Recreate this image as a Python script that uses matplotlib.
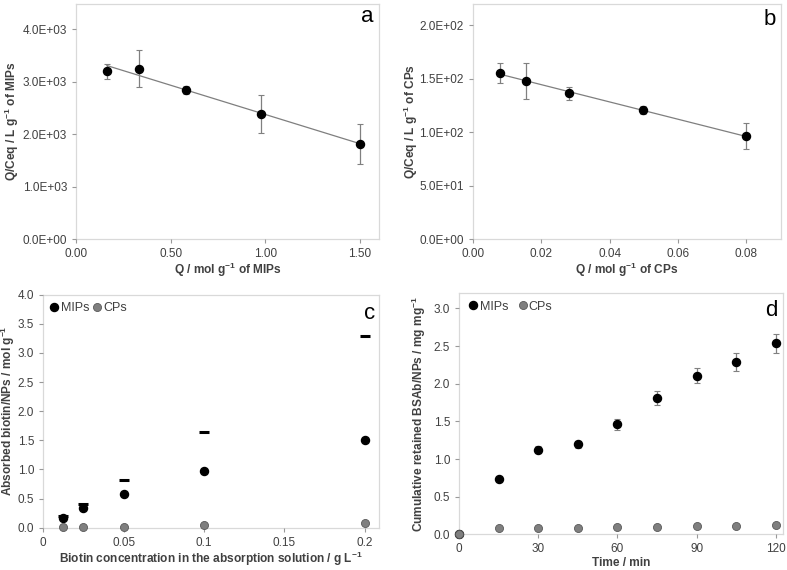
import matplotlib
matplotlib.use("Agg")
import matplotlib.pyplot as plt
import numpy as np
from matplotlib.ticker import FuncFormatter, MultipleLocator

plt.rcParams["font.family"] = ["Liberation Sans", "DejaVu Sans"]
plt.rcParams["mathtext.fontset"] = "custom"
plt.rcParams["mathtext.rm"] = "Liberation Sans:bold"
plt.rcParams["mathtext.it"] = "Liberation Sans:bold"
plt.rcParams["mathtext.bf"] = "Liberation Sans:bold"

# panel a: Scatchard plot, MIPs
q_mips = [0.163, 0.333, 0.581, 0.975, 1.50]
qc_mips = [3200, 3250, 2838, 2380, 1813]
qc_mips_err = [145, 360, 75, 360, 380]

# panel b: Scatchard plot, CPs
q_cps = [0.0080, 0.0155, 0.0282, 0.0498, 0.0799]
qc_cps = [155.4, 148.0, 136.4, 120.6, 96.3]
qc_cps_err = [9.5, 17.0, 6.0, 4.0, 12.5]

# panel c: adsorption vs biotin concentration
conc = [0.0125, 0.025, 0.05, 0.1, 0.2]
abs_mips = [0.17, 0.33, 0.58, 0.97, 1.50]
abs_cps = [0.01, 0.01, 0.02, 0.046, 0.074]
abs_max = [0.20, 0.41, 0.82, 1.64, 3.29]

# panel d: cumulative retention over time
time_min = [0, 15, 30, 45, 60, 75, 90, 105, 120]
ret_mips = [0.0, 0.739, 1.124, 1.195, 1.46, 1.81, 2.106, 2.288, 2.535]
ret_mips_err = [0.0, 0.02, 0.05, 0.05, 0.075, 0.09, 0.10, 0.12, 0.125]
ret_cps = [0.0, 0.08, 0.084, 0.088, 0.093, 0.10, 0.105, 0.107, 0.124]

TXT = "#404040"
FRAME = "#d9d9d9"
MS = 5.8
TICK_FS = 8.5
LAB_FS = 8.6


def style(ax):
    for s in ax.spines.values():
        s.set_color(FRAME)
        s.set_linewidth(0.9)
        s.set_zorder(0)
    ax.tick_params(axis="both", labelsize=TICK_FS, colors="#999999", labelcolor=TXT,
                   length=3, width=0.8, direction="out")


def labels(ax, xl, yl, xpos, ypos):
    ax.set_xlabel(xl, fontsize=LAB_FS, fontweight="bold", color=TXT)
    ax.set_ylabel(yl, fontsize=LAB_FS, fontweight="bold", color=TXT)
    ax.xaxis.label.set_va("center")
    ax.yaxis.label.set_va("center")
    ax.xaxis.set_label_coords(0.5, xpos)
    ax.yaxis.set_label_coords(ypos, 0.5)


def letter(ax, s, x, y):
    ax.text(x, y, s, transform=ax.transAxes, fontsize=16, ha="center",
            va="center", color="black")


fig = plt.figure(figsize=(7.87, 5.70), dpi=100)

ax_a = fig.add_axes([0.0966, 0.5807, 0.385, 0.4123])
ax_b = fig.add_axes([0.6006, 0.5807, 0.3914, 0.4123])
ax_c = fig.add_axes([0.055, 0.0742, 0.426, 0.4088])
ax_d = fig.add_axes([0.5836, 0.0626, 0.4117, 0.4228])

sci = FuncFormatter(lambda v, p: f"{v:.1E}")

# a
k, b0 = np.polyfit(q_mips, qc_mips, 1)
xs = np.array([q_mips[0], q_mips[-1]])
ax_a.plot(xs, k * xs + b0, color="#7f7f7f", lw=0.9, zorder=2)
ax_a.errorbar(q_mips, qc_mips, yerr=qc_mips_err, fmt="o", color="black", ms=MS,
              ecolor="#808080", elinewidth=0.9, capsize=2.2, capthick=0.8, zorder=3)
ax_a.set_xlim(0, 1.6)
ax_a.set_ylim(0, 4480)
ax_a.xaxis.set_major_locator(MultipleLocator(0.5))
ax_a.yaxis.set_major_locator(MultipleLocator(1000))
ax_a.xaxis.set_major_formatter(FuncFormatter(lambda v, p: f"{v:.2f}"))
ax_a.yaxis.set_major_formatter(sci)
style(ax_a)
labels(ax_a, r"Q / mol g$^{-1}$ of MIPs", r"Q/Ceq / L g$^{-1}$ of MIPs", -0.132, -0.213)
letter(ax_a, "a", 0.96, 0.945)

# b
k, b0 = np.polyfit(q_cps, qc_cps, 1)
xs = np.array([q_cps[0], q_cps[-1]])
ax_b.plot(xs, k * xs + b0, color="#7f7f7f", lw=0.9, zorder=2)
ax_b.errorbar(q_cps, qc_cps, yerr=qc_cps_err, fmt="o", color="black", ms=MS,
              ecolor="#808080", elinewidth=0.9, capsize=2.2, capthick=0.8, zorder=3)
ax_b.set_xlim(0, 0.09)
ax_b.set_ylim(0, 220)
ax_b.xaxis.set_major_locator(MultipleLocator(0.02))
ax_b.yaxis.set_major_locator(MultipleLocator(50))
ax_b.xaxis.set_major_formatter(FuncFormatter(lambda v, p: f"{v:.2f}"))
ax_b.yaxis.set_major_formatter(sci)
style(ax_b)
labels(ax_b, r"Q / mol g$^{-1}$ of CPs", r"Q/Ceq / L g$^{-1}$ of CPs", -0.132, -0.199)
letter(ax_b, "b", 0.963, 0.935)

# c
ax_c.plot(conc, abs_max, linestyle="none", marker="_", color="black", ms=6.5,
          mew=2.2, zorder=3)
h_mc = ax_c.plot(conc, abs_mips, linestyle="none", marker="o", color="black", ms=MS,
                 label="MIPs", zorder=4)[0]
h_cc = ax_c.plot(conc, abs_cps, linestyle="none", marker="o", color="#7f7f7f",
                 mec="#595959", mew=0.6, ms=MS, label="CPs", zorder=4)[0]
ax_c.set_xlim(0, 0.2085)
ax_c.set_ylim(0, 4.0)
ax_c.xaxis.set_major_locator(MultipleLocator(0.05))
ax_c.yaxis.set_major_locator(MultipleLocator(0.5))
ax_c.xaxis.set_major_formatter(FuncFormatter(lambda v, p: f"{v:g}"))
ax_c.yaxis.set_major_formatter(FuncFormatter(lambda v, p: f"{v:.1f}"))
style(ax_c)
labels(ax_c, r"Biotin concentration in the absorption solution / g L$^{-1}$",
       r"Absorbed biotin/NPs / mol g$^{-1}$", -0.136, -0.106)
ax_c.legend([h_mc, h_cc], ["MIPs", "CPs"], loc="center left", ncol=2, frameon=False,
            fontsize=9, handlelength=0.7, handletextpad=0.15, columnspacing=0.3,
            borderaxespad=0, borderpad=0, bbox_to_anchor=(0.02, 0.943),
            labelcolor=TXT)
letter(ax_c, "c", 0.972, 0.921)

# d
h_md = ax_d.errorbar(time_min, ret_mips, yerr=ret_mips_err, fmt="o", color="black",
                     ms=MS, ecolor="#808080", elinewidth=0.9, capsize=2.2,
                     capthick=0.8, zorder=3)
h_cd = ax_d.plot(time_min, ret_cps, linestyle="none", marker="o", color="#7f7f7f",
                 mec="#595959", mew=0.6, ms=MS, zorder=4)[0]
ax_d.set_xlim(0, 122.9)
ax_d.set_ylim(0, 3.2)
ax_d.xaxis.set_major_locator(MultipleLocator(30))
ax_d.yaxis.set_major_locator(MultipleLocator(0.5))
ax_d.yaxis.set_major_formatter(FuncFormatter(lambda v, p: f"{v:.1f}"))
style(ax_d)
labels(ax_d, "Time / min", r"Cumulative retained BSAb/NPs / mg mg$^{-1}$",
       -0.118, -0.126)
ax_d.legend([h_md[0], h_cd], ["MIPs", "CPs"], loc="center left", ncol=2,
            frameon=False, fontsize=9, handlelength=0.7, handletextpad=0.15,
            columnspacing=0.8, borderaxespad=0, borderpad=0,
            bbox_to_anchor=(0.03, 0.944), labelcolor=TXT)
letter(ax_d, "d", 0.964, 0.93)

for a in (ax_a, ax_b, ax_c, ax_d):
    a.set_axisbelow(True)
    for art in a.lines:
        art.set_clip_on(False)

fig.savefig("out.png", dpi=100)
